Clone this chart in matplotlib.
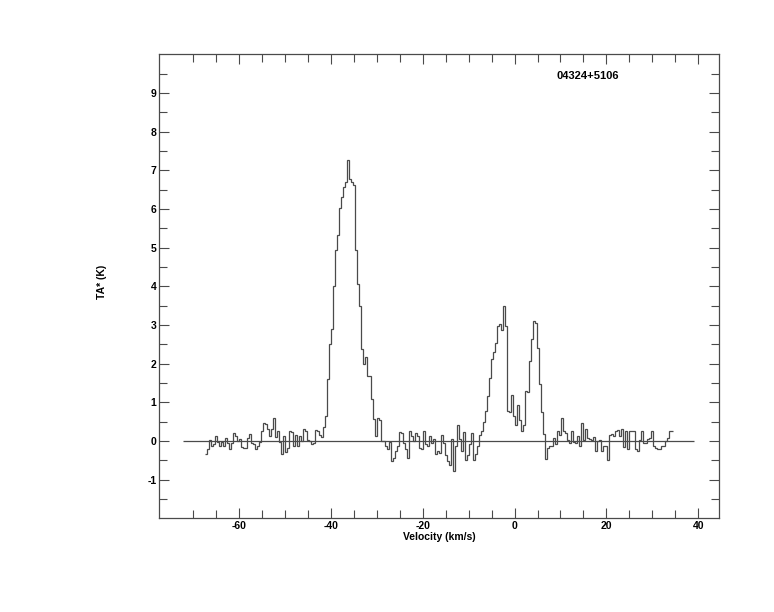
import matplotlib
matplotlib.use('Agg')
import matplotlib.pyplot as plt
import numpy as np

# Grille des canaux en vitesse (km/s)
v_debut = -67.40
dv = 0.4354

# Temperature d'antenne TA* (K), lue canal par canal sur le spectre
bruit_gauche = [-0.33, -0.20, 0.03, -0.14, -0.09, 0.14, -0.03, -0.14, -0.03, -0.12,
                0.08, -0.06, -0.22, -0.05, 0.20, 0.12, 0.00, 0.05, -0.15, -0.18,
                -0.18, 0.08, 0.18, -0.05, -0.08, -0.22, -0.14, -0.03, 0.27, 0.46,
                0.44, 0.32, 0.12, 0.32, 0.59, 0.10, 0.25, -0.03, -0.33, 0.14,
                -0.29, -0.19, 0.25, 0.22, -0.12, 0.16, -0.14, 0.14, -0.01, 0.31,
                0.27, 0.02, -0.01, -0.07, -0.05, 0.29, 0.25, 0.16, 0.10, 0.35]
pic_principal = [0.65, 1.60, 2.50, 2.89, 4.00, 4.95, 5.33, 6.02, 6.32, 6.58,
                 6.71, 7.27, 6.78, 6.70, 6.62, 4.95, 4.05, 3.50, 2.37, 1.98,
                 2.17, 1.68, 1.68, 1.08, 0.58, 0.14, 0.60, 0.55]
bruit_milieu = [0.00, 0.00, -0.14, -0.20, -0.03, -0.52, -0.44, -0.27, -0.14, 0.22,
                0.20, -0.05, -0.22, -0.44, 0.25, 0.14, 0.00, 0.20, 0.12, -0.18,
                -0.20, 0.25, -0.09, -0.14, 0.12, -0.05, 0.05, -0.33, -0.27, -0.31,
                0.16, -0.05, -0.35, -0.52, -0.61, 0.05, -0.78, -0.14, 0.42, 0.05,
                -0.27, 0.23, -0.50, -0.35, -0.09, 0.20, -0.50, -0.34, -0.12]
pics_doubles = [0.16, 0.25, 0.50, 0.78, 1.17, 1.64, 2.11, 2.30, 2.54, 2.97,
                3.02, 2.88, 3.50, 2.97, 0.78, 0.74, 1.18, 0.65, 0.41, 0.93,
                0.54, 0.27, 0.41, 1.30, 1.27, 2.07, 2.63, 3.10, 3.06, 2.41,
                1.47, 0.74, 0.18]
bruit_droite = [-0.46, -0.18, -0.14, -0.12, 0.08, -0.07, 0.27, 0.16, 0.59, 0.27,
                0.20, 0.02, -0.05, 0.27, -0.03, -0.05, 0.14, -0.14, 0.46, 0.03,
                0.31, 0.08, 0.05, 0.03, 0.10, -0.27, 0.00, 0.03, -0.27, -0.12,
                -0.14, -0.48, 0.16, 0.19, 0.14, 0.25, 0.29, 0.14, 0.31, -0.16,
                0.25, -0.20, 0.27, 0.25, 0.25, -0.22, -0.27, 0.03, 0.25, -0.05,
                -0.05, 0.05, 0.08, 0.25, -0.12, -0.18, -0.22, -0.20, -0.14, -0.12,
                -0.01, 0.08, 0.25, 0.27]

# Ligne de base tracee a TA* = 0
base_debut, base_fin = -72.2, 39.1

source = '04324+5106'
xticks = [-60, -40, -20, 0, 20, 40]
yticks = [-1, 0, 1, 2, 3, 4, 5, 6, 7, 8, 9]

ta = np.array(bruit_gauche + pic_principal + bruit_milieu + pics_doubles + bruit_droite)
bords = v_debut + dv * np.arange(len(ta) + 1)

gris = '#4a4a4a'
plt.rcParams['font.family'] = ['Liberation Sans', 'DejaVu Sans']
plt.rcParams['font.weight'] = 'bold'
plt.rcParams['axes.unicode_minus'] = False

fig = plt.figure(figsize=(7.74, 6.12), dpi=100)
ax = fig.add_axes([0.2058, 0.1531, 0.7235, 0.7582])

# Spectre en escalier + ligne de base
ax.stairs(ta, bords, baseline=None, color=gris, linewidth=0.9)
ax.hlines(0, base_debut, base_fin, color=gris, linewidth=0.9)

ax.set_xlim(-77.35, 44.57)
ax.set_ylim(-2, 10)

####################### AXES ###############################
ax.set_xticks(xticks)
ax.set_xticks(np.arange(-70, 41, 5), minor=True)
ax.set_yticks(yticks)
ax.set_yticks(np.arange(-1.5, 9.6, 0.5), minor=True)
ax.tick_params(which='both', direction='in', top=True, right=True,
               color=gris, width=0.8, labelsize=7.5, pad=2)
ax.tick_params(which='major', length=7.5)
ax.tick_params(which='minor', length=5.5)
for lab in ax.get_xticklabels() + ax.get_yticklabels():
    lab.set_fontweight('bold')
for s in ax.spines.values():
    s.set_color(gris)
    s.set_linewidth(0.9)

ax.set_xlabel('Velocity (km/s)', fontsize=7.5, fontweight='bold', labelpad=0.5)
ax.set_ylabel('TA* (K)', fontsize=7.5, fontweight='bold')
ax.yaxis.set_label_coords(-0.094, 0.51)

ax.text(0.7655, 0.953, source, transform=ax.transAxes, ha='center', va='center',
        fontsize=8, fontweight='bold')

fig.savefig('out.png', dpi=100)
